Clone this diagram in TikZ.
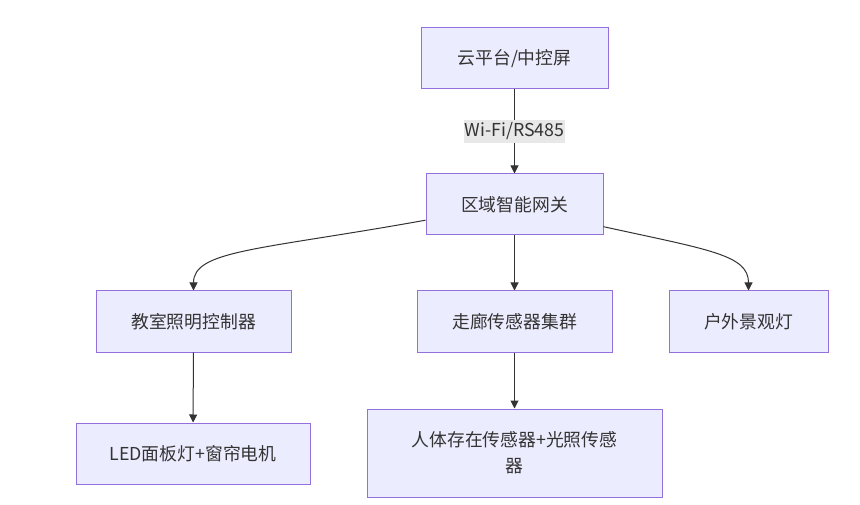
\documentclass[tikz,border=0pt]{standalone}
\usepackage{fontspec}
\setmainfont{Noto Sans CJK SC}
\usetikzlibrary{arrows.meta}
\definecolor{boxfill}{HTML}{ECECFF}
\definecolor{boxline}{HTML}{9370DB}
\definecolor{linkcol}{HTML}{333333}
\definecolor{labelbg}{HTML}{E8E8E8}

\begin{document}
\begin{tikzpicture}[x = 1pt, y = -1pt,
	box/.style = {draw = boxline, fill = boxfill, line width = 1pt, minimum height = 61pt,
		text = linkcol, font = \fontsize{17.8}{26}\selectfont, align = center},
	link/.style = {-{Triangle[length = 8pt, width = 8pt]}, color = linkcol, line width = 1pt},
	tag/.style = {fill = labelbg, text = linkcol, font = \fontsize{17.8}{20}\selectfont,
		inner xsep = 1pt, inner ysep = 3pt}]
	\useasboundingbox[fill = white] (0,0) rectangle (860,505);
	% top levels
	\node[box, minimum width = 187pt] (cloud) at (514.5,58.5) {云平台/中控屏};
	\node[box, minimum width = 177pt] (gateway) at (514.5,204.5) {区域智能网关};
	% controllers
	\node[box, minimum width = 195pt] (classroom) at (193.5,321.5) {教室照明控制器};
	\node[box, minimum width = 195pt] (corridor) at (514.5,321.5) {走廊传感器集群};
	\node[box, minimum width = 159pt] (outdoor) at (748.5,321.5) {户外景观灯};
	% devices
	\node[box, minimum width = 234pt] (lamps) at (193,453.5) {LED面板灯+窗帘电机};
	\node[box, minimum width = 295pt, minimum height = 88pt] (sensors) at (514.5,453)
		{人体存在传感器+光照传感\\器};
	% links
	\draw[link] (cloud) -- node[tag] {Wi-Fi/RS485} (gateway);
	\draw[link] (gateway.190) .. controls (260,250) and (193.5,250) .. (classroom.north);
	\draw[link] (gateway) -- (corridor);
	\draw[link] (gateway.346) .. controls (710,250) and (748.5,255) .. (outdoor.north);
	\draw[link] (classroom) -- (lamps);
	\draw[link] (corridor) -- (sensors);
\end{tikzpicture}
\end{document}
